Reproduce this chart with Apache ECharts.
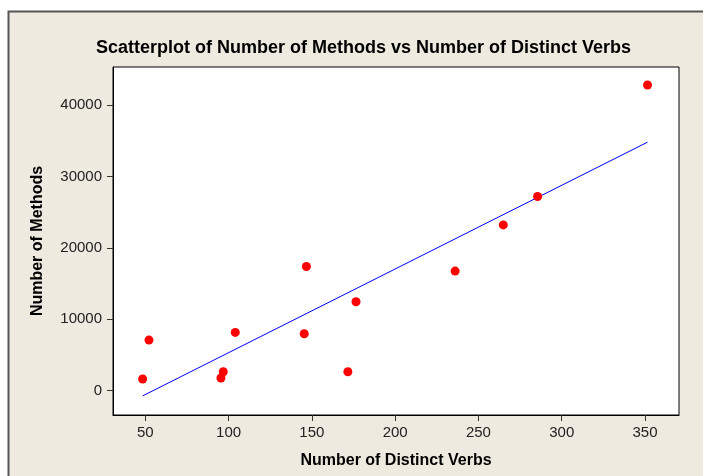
<!DOCTYPE html>
<html>
<head>
<meta charset="utf-8">
<script src="https://cdn.jsdelivr.net/npm/echarts@6/dist/echarts.min.js"></script>
<style>
html,body{margin:0;padding:0;background:#fff;}
#c{width:703px;height:476px;}
</style>
</head>
<body>
<div id="c"></div>
<script>
// Data
const distinctVerbs = [48.4, 52.2, 95.4, 96.8, 104, 145.4, 146.7, 171.6, 176.5, 236, 264.9, 285.5, 351.5];
const numMethods    = [1610, 7070, 1750, 2630, 8150, 7960, 17390, 2630, 12440, 16740, 23220, 27200, 42830];
const xTicks = [50, 100, 150, 200, 250, 300, 350];
const yTicks = [0, 10000, 20000, 30000, 40000];
const titleText = 'Scatterplot of Number of Methods vs Number of Distinct Verbs';
const xName = 'Number of Distinct Verbs';
const yName = 'Number of Methods';

// Least-squares fitted line from the data
const n = distinctVerbs.length;
const mx = distinctVerbs.reduce((a,b)=>a+b,0)/n;
const my = numMethods.reduce((a,b)=>a+b,0)/n;
let sxy = 0, sxx = 0;
for (let i=0;i<n;i++){ sxy += (distinctVerbs[i]-mx)*(numMethods[i]-my); sxx += (distinctVerbs[i]-mx)**2; }
const slope = sxy/sxx, icpt = my - slope*mx;
const xMin = Math.min(...distinctVerbs), xMax = Math.max(...distinctVerbs);
const fitLine = [[xMin, icpt+slope*xMin],[xMax, icpt+slope*xMax]];

const FONT = '"Liberation Sans", Arial, sans-serif';
const chart = echarts.init(document.getElementById('c'), null, {renderer:'canvas'});
chart.setOption({
  backgroundColor: '#ffffff',
  animation: false,
  graphic: [{
    type: 'rect', z: -10, silent: true,
    shape: {x: 8.5, y: 11.5, width: 720, height: 500},
    style: {fill: '#EEEAE0', stroke: '#555555', lineWidth: 2}
  }],
  title: {
    text: titleText, left: 91, top: 34,
    textStyle: {fontFamily: FONT, fontWeight: 'bold', fontSize: 18, color: '#000'}
  },
  grid: {left: 113, top: 67, width: 566, height: 348, show: true, backgroundColor: '#fff', borderColor: '#000', borderWidth: 1},
  xAxis: {
    type: 'value', min: 30.6, max: 370.4,
    name: xName, nameLocation: 'middle', nameGap: 38,
    nameTextStyle: {fontFamily: FONT, fontWeight: 'bold', fontSize: 16, color: '#000'},
    axisLine: {show: true, onZero: false, lineStyle: {color: '#000'}},
    axisTick: {show: true, length: 6, lineStyle: {color: '#333'}, customValues: xTicks},
    axisLabel: {fontFamily: FONT, fontSize: 15, color: '#222', margin: 10, customValues: xTicks,
                formatter: v => String(v)},
    splitLine: {show: false}
  },
  yAxis: {
    type: 'value', min: -3430, max: 45350,
    name: yName, nameLocation: 'middle', nameGap: 67,
    nameTextStyle: {fontFamily: FONT, fontWeight: 'bold', fontSize: 16, color: '#000'},
    axisLine: {show: true, onZero: false, lineStyle: {color: '#000'}},
    axisTick: {show: true, length: 6, lineStyle: {color: '#333'}, customValues: yTicks},
    axisLabel: {fontFamily: FONT, fontSize: 15, color: '#222', margin: 11, customValues: yTicks,
                formatter: v => String(v)},
    splitLine: {show: false}
  },
  series: [
    {
      type: 'line', data: fitLine, symbol: 'none',
      lineStyle: {color: '#0000FF', width: 1}, z: 2, silent: true
    },
    {
      type: 'scatter', data: distinctVerbs.map((v,i)=>[v, numMethods[i]]),
      symbol: 'circle', symbolSize: 9,
      itemStyle: {color: '#FF0000', opacity: 1}, z: 3
    }
  ]
});
</script>
</body>
</html>
